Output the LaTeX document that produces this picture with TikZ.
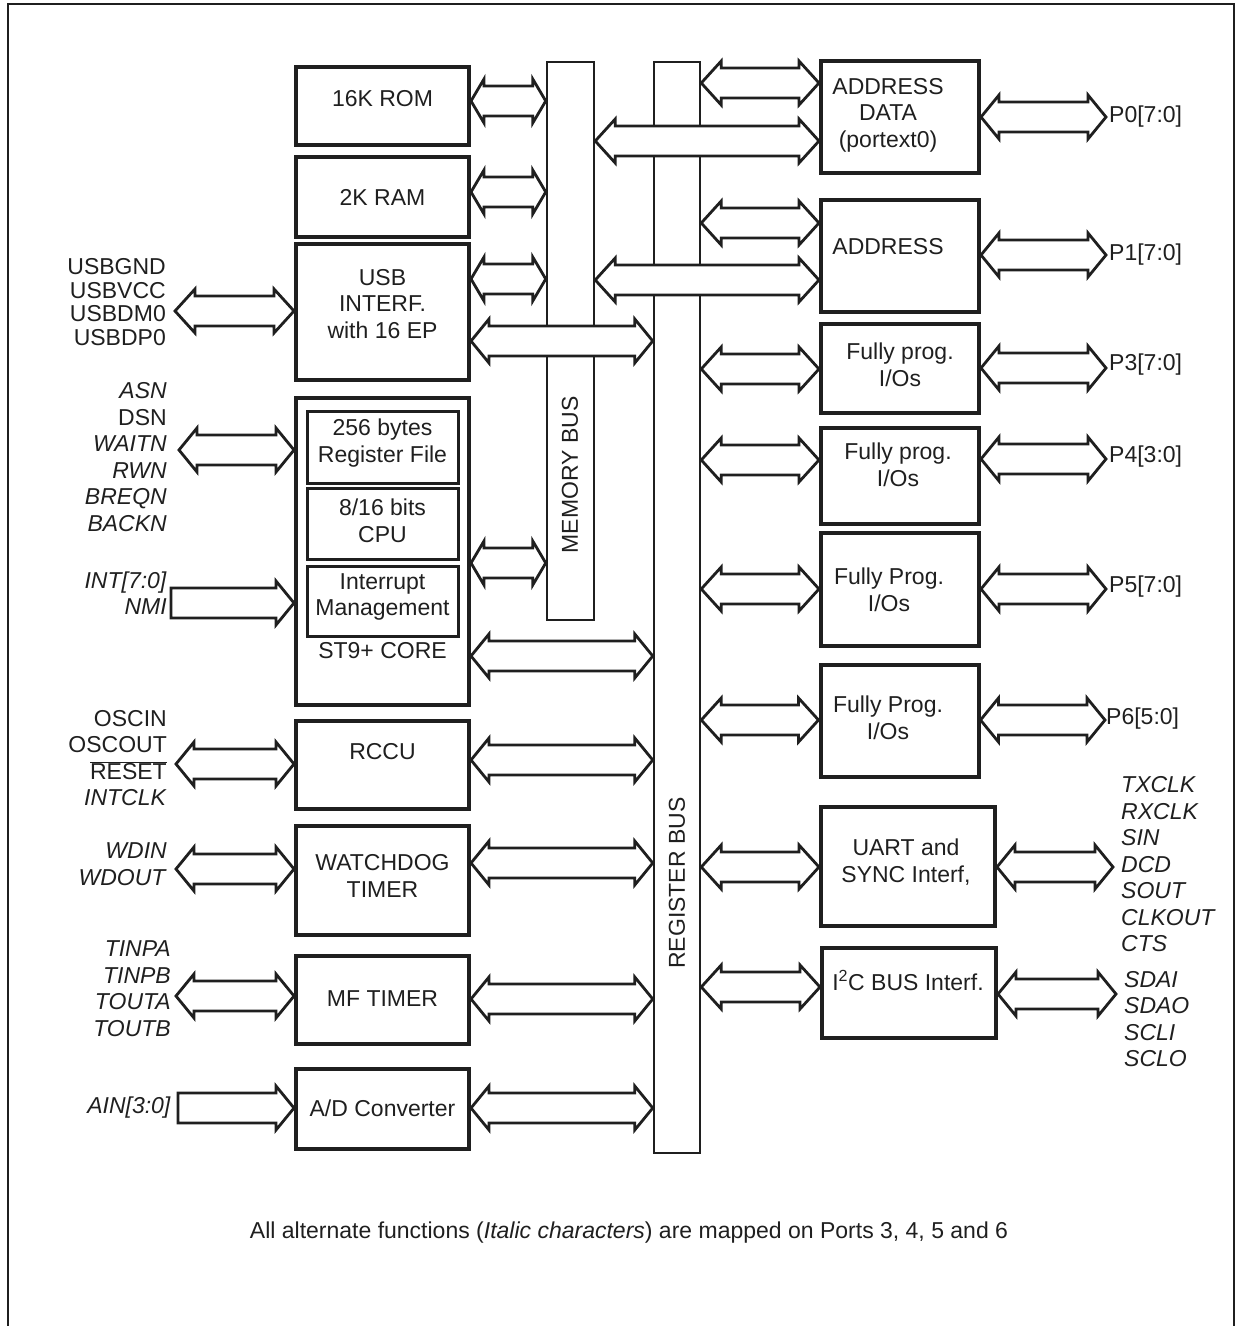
\documentclass[tikz,border=0pt]{standalone}
\usepackage{fontspec}
\setmainfont{Liberation Sans}
\usetikzlibrary{calc}
\definecolor{ink}{gray}{0.12}

% fat bus arrows: [head length]{from}{to}{y}
\newcommand{\dblarrow}[4][18]{%
  \draw[fatarr] let \p1=(#2), \p2=(#3), \p3=(0,#4) in
    (\x1,\y3) -- (\x1+#1pt,\y3+22pt) -- (\x1+#1pt,\y3+15pt) -- (\x2-#1pt,\y3+15pt)
    -- (\x2-#1pt,\y3+22pt) -- (\x2,\y3) -- (\x2-#1pt,\y3-22pt) -- (\x2-#1pt,\y3-15pt)
    -- (\x1+#1pt,\y3-15pt) -- (\x1+#1pt,\y3-22pt) -- cycle;}
\newcommand{\sglarrow}[4][18]{%
  \draw[fatarr] let \p1=(#2), \p2=(#3), \p3=(0,#4) in
    (\x1,\y3+15pt) -- (\x2-#1pt,\y3+15pt) -- (\x2-#1pt,\y3+22pt) -- (\x2,\y3)
    -- (\x2-#1pt,\y3-22pt) -- (\x2-#1pt,\y3-15pt) -- (\x1,\y3-15pt) -- cycle;}

\begin{document}
\begin{tikzpicture}[
  x=1pt, y=-1pt,
  font=\fontsize{23}{26.5}\selectfont,
  blk/.style={draw=ink, line width=4pt, minimum width=173pt},
  sub/.style={draw=ink, line width=3pt, minimum width=151pt},
  port/.style={draw=ink, line width=4pt, minimum width=158pt},
  busbar/.style={draw=ink, line width=2.5pt},
  fatarr/.style={draw=ink, fill=white, line width=2.8pt, line join=miter},
  txt/.style={align=center, inner sep=0pt, text=ink},
  sigl/.style={align=right, anchor=east, inner sep=0pt, text=ink},
  sigr/.style={align=left, anchor=west, inner sep=0pt, text=ink},
]
\useasboundingbox (0,0) rectangle (1240,1326);
\draw[ink, line width=2pt] (8,1326) -- (8,4) -- (1234,4) -- (1234,1326);

% ---- buses ----
\node[busbar, minimum width=47pt, minimum height=558pt] (mbus) at (570.5,341) {};
\node[busbar, minimum width=46pt, minimum height=1091pt] (rbus) at (677,607.5) {};
\node[txt, rotate=90] (mbusT) at (570,475) {MEMORY BUS};
\node[txt, rotate=90] (rbusT) at (677,883) {REGISTER BUS};

% ---- left column ----
\node[blk, minimum height=78pt] (rom) at (382.5,106) {};
\node[blk, minimum height=80pt] (ram) at (382.5,197) {};
\node[blk, minimum height=136pt] (usb) at (382.5,312) {};
\node[blk, minimum height=307pt] (core) at (382.5,551.5) {};
\node[sub, minimum height=72pt] (regf) at (382.5,447) {};
\node[sub, minimum height=71pt] (cpu) at (382.5,523.5) {};
\node[sub, minimum height=70pt] (intm) at (382.5,601) {};
\node[blk, minimum height=88pt] (rccu) at (382.5,765) {};
\node[blk, minimum height=109pt] (wdt) at (382.5,880.5) {};
\node[blk, minimum height=88pt] (mft) at (382.5,1000) {};
\node[blk, minimum height=80pt] (adc) at (382.5,1109) {};

\node[txt] (romT) at (382.5,99) {16K ROM};
\node[txt] (ramT) at (382.5,197) {2K RAM};
\node[txt] (usbT) at (382.5,304) {USB\\INTERF.\\with 16 EP};
\node[txt] (regfT) at (382.5,443) {256 bytes\\Register File};
\node[txt] (cpuT) at (382.5,521) {8/16 bits\\CPU};
\node[txt] (intmT) at (382.5,597) {Interrupt\\Management};
\node[txt] (coreT) at (382.5,651) {ST9+ CORE};
\node[txt] (rccuT) at (382.5,752) {RCCU};
\node[txt] (wdtT) at (382.5,876) {WATCHDOG\\TIMER};
\node[txt] (mftT) at (382.5,999) {MF TIMER};
\node[txt] (adcT) at (382.5,1108) {A/D Converter};

% ---- right column ----
\node[port, minimum height=112pt] (pext0) at (900,117) {};
\node[port, minimum height=112pt] (pext1) at (900,256) {};
\node[port, minimum height=89pt] (port3) at (900,368.5) {};
\node[port, minimum height=96pt] (port4) at (900,476) {};
\node[port, minimum height=113pt] (port5) at (900,589.5) {};
\node[port, minimum height=112pt] (port6) at (899.5,721) {};
\node[blk, minimum width=174pt, minimum height=119pt] (uart) at (908,866.5) {};
\node[blk, minimum width=174pt, minimum height=90pt] (iic) at (909,993) {};

\node[txt] (pext0T) at (888,115) {ADDRESS\\DATA\\(portext0)};
\node[txt] (pext1T) at (888,247) {ADDRESS};
\node[txt] (port3T) at (900,365) {Fully prog.\\I/Os};
\node[txt] (port4T) at (898,465) {Fully prog.\\I/Os};
\node[txt] (port5T) at (889,590) {Fully Prog.\\I/Os};
\node[txt] (port6T) at (888,718) {Fully Prog.\\I/Os};
\node[txt] (uartT) at (906,862) {UART and\\SYNC Interf,};
\node[txt] (iicT) at (908,980) {I\textsuperscript{2}C BUS Interf.};

% ---- pin names ----
\node[sigl, font=\fontsize{23}{23.5}\selectfont] (usbsig) at (166,302) {USBGND\\USBVCC\\USBDM0\\USBDP0};
\node[sigl] (extsig) at (167,457) {\textit{ASN}\\DSN\\\textit{WAITN}\\\textit{RWN}\\\textit{BREQN}\\\textit{BACKN}};
\node[sigl] (intsig) at (167,593) {\textit{INT[7:0]}\\\textit{NMI}};
\node[sigl] (oscsig) at (167,758) {OSCIN\\OSCOUT\\$\overline{\mbox{RESET}}$\\\textit{INTCLK}};
\node[sigl] (wdsig) at (167,864) {\textit{WDIN}\\\textit{WDOUT}};
\node[sigl] (mfsig) at (171,988.5) {\textit{TINPA}\\\textit{TINPB}\\\textit{TOUTA}\\\textit{TOUTB}};
\node[sigl] (ainsig) at (171,1108) {\textit{AIN[3:0]}};

\node[sigr] (p0sig) at (1109,117) {P0[7:0]};
\node[sigr] (p1sig) at (1109,255) {P1[7:0]};
\node[sigr] (p3sig) at (1109,365) {P3[7:0]};
\node[sigr] (p4sig) at (1109,457) {P4[3:0]};
\node[sigr] (p5sig) at (1109,587) {P5[7:0]};
\node[sigr] (p6sig) at (1106,719) {P6[5:0]};
\node[sigr] (uartsig) at (1121,864.5) {\textit{TXCLK}\\\textit{RXCLK}\\\textit{SIN}\\\textit{DCD}\\\textit{SOUT}\\\textit{CLKOUT}\\\textit{CTS}};
\node[sigr] (iicsig) at (1124,1019) {\textit{SDAI}\\\textit{SDAO}\\\textit{SCLI}\\\textit{SCLO}};

% ---- memory bus links ----
\dblarrow[13]{rom.east}{mbus.west}{101}
\dblarrow[13]{ram.east}{mbus.west}{192}
\dblarrow[13]{usb.east}{mbus.west}{279}
\dblarrow[13]{core.east}{mbus.west}{563}
\dblarrow[20]{mbus.east}{pext0.west}{141}
\dblarrow[20]{mbus.east}{pext1.west}{280}

% ---- register bus links ----
\dblarrow{usb.east}{rbus.west}{341}
\dblarrow{core.east}{rbus.west}{656}
\dblarrow{rccu.east}{rbus.west}{760}
\dblarrow{wdt.east}{rbus.west}{863}
\dblarrow{mft.east}{rbus.west}{999}
\dblarrow{adc.east}{rbus.west}{1108}
\dblarrow[20]{rbus.east}{pext0.west}{83}
\dblarrow[20]{rbus.east}{pext1.west}{223}
\dblarrow[20]{rbus.east}{port3.west}{369}
\dblarrow[20]{rbus.east}{port4.west}{460}
\dblarrow[20]{rbus.east}{port5.west}{589}
\dblarrow[20]{rbus.east}{port6.west}{720}
\dblarrow[20]{rbus.east}{uart.west}{867}
\dblarrow[20]{rbus.east}{iic.west}{987}

% ---- pins ----
\dblarrow[20]{[xshift=9pt]usbsig.east}{usb.west}{311}
\dblarrow{[xshift=12pt]extsig.east}{core.west}{450}
\sglarrow{[xshift=4pt]intsig.east}{core.west}{603}
\dblarrow{[xshift=9pt]oscsig.east}{rccu.west}{764}
\dblarrow{[xshift=9pt]wdsig.east}{wdt.west}{869}
\dblarrow{[xshift=5pt]mfsig.east}{mft.west}{996}
\sglarrow{[xshift=7pt]ainsig.east}{adc.west}{1108}
\dblarrow{pext0.east}{[xshift=-3pt]p0sig.west}{117}
\dblarrow{pext1.east}{[xshift=-3pt]p1sig.west}{255}
\dblarrow{port3.east}{[xshift=-3pt]p3sig.west}{368}
\dblarrow{port4.east}{[xshift=-3pt]p4sig.west}{459}
\dblarrow{port5.east}{[xshift=-3pt]p5sig.west}{589}
\dblarrow{port6.east}{[xshift=-1pt]p6sig.west}{720}
\dblarrow{uart.east}{[xshift=-8pt]uartsig.west}{867}
\dblarrow{iic.east}{[xshift=-8pt]iicsig.west}{994}

% ---- note ----
\node[txt] (note) at (629,1233) {All alternate functions (\textit{Italic characters}) are mapped on Ports 3, 4, 5 and 6};
\end{tikzpicture}
\end{document}
